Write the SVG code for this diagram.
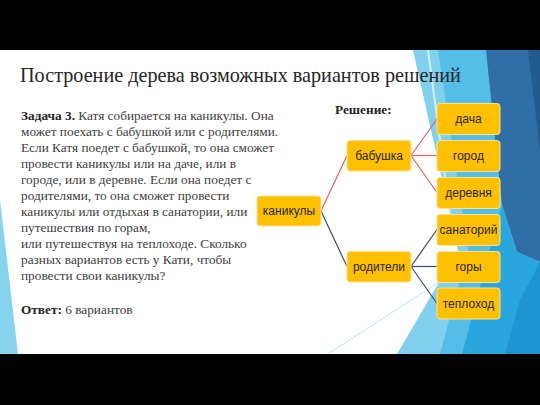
<svg xmlns="http://www.w3.org/2000/svg" width="540" height="405" viewBox="0 0 540 405">
<style>
.bar{fill:#000}
.title{font-family:"Liberation Serif","Times New Roman",serif;font-size:20.2px;fill:#262626}
.body{font-family:"Liberation Serif","Times New Roman",serif;font-size:13.3px;fill:#404040}
.b{font-weight:bold;fill:#262626}
.node rect{fill:#FFC000;stroke:#FFE38A;stroke-width:1}
.node text{font-family:"Liberation Sans",Arial,sans-serif;font-size:12px;fill:#262626;text-anchor:middle}
.red{stroke:#E0606A;stroke-width:1.2;fill:none}
.navy{stroke:#3E4A68;stroke-width:1.2;fill:none}
</style>
<rect x="0" y="0" width="540" height="405" fill="#FFFFFF"/>
<g id="background">
<polygon points="0,200 18,354 0,354" fill="#86D3EE"/>
<polygon points="413,50 540,50 540,354 397,354 458,250" fill="#80D0EE"/>
<polygon points="438,50 488,50 502,205 475,354 440,354 468,250" fill="#55BEE8"/>
<polygon points="486,50 540,50 540,262 517,252 502,205" fill="#2F6FA6"/>
<polygon points="528,50 540,50 540,150" fill="#235B8F"/>
<polygon points="502,205 517,252 540,262 540,354 462,354" fill="#2AA6DE"/>
<polygon points="520,300 540,262 540,354 505,354" fill="#1E95D0"/>
<line x1="428" y1="50" x2="452" y2="230" stroke="#D2EEF8" stroke-width="2"/>
<line x1="328" y1="354" x2="470" y2="262" stroke="#A9DDF1" stroke-width="0.8"/>
</g>
<rect class="bar" x="0" y="0" width="540" height="50"/>
<rect class="bar" x="0" y="354" width="540" height="51"/>
<text class="title" x="20" y="82">Построение дерева возможных вариантов решений</text>
<g id="problem" class="body">
<text x="21" y="120"><tspan class="b">Задача 3.</tspan> Катя собирается на каникулы. Она</text>
<text x="21" y="136">может поехать с бабушкой или с родителями.</text>
<text x="21" y="152">Если Катя поедет с бабушкой, то она сможет</text>
<text x="21" y="168">провести каникулы или на даче, или в</text>
<text x="21" y="184">городе, или в деревне. Если она поедет с</text>
<text x="21" y="200">родителями, то она сможет провести</text>
<text x="21" y="216">каникулы или отдыхая в санатории, или</text>
<text x="21" y="232">путешествия по горам,</text>
<text x="21" y="248">или путешествуя на теплоходе. Сколько</text>
<text x="21" y="264">разных вариантов есть у Кати, чтобы</text>
<text x="21" y="280">провести свои каникулы?</text>
<text x="21" y="314"><tspan class="b">Ответ:</tspan> 6 вариантов</text>
</g>
<text class="body b" x="335" y="114">Решение:</text>
<g id="connectors">
<line class="red" x1="321" y1="211" x2="347" y2="155.5"/>
<line class="navy" x1="321" y1="211" x2="347" y2="266.5"/>
<line class="red" x1="411" y1="155.5" x2="437" y2="119"/>
<line class="red" x1="411" y1="155.5" x2="437" y2="155.5"/>
<line class="red" x1="411" y1="155.5" x2="437" y2="192.5"/>
<line class="navy" x1="411" y1="266.5" x2="437" y2="229.5"/>
<line class="navy" x1="411" y1="266.5" x2="437" y2="266.5"/>
<line class="navy" x1="411" y1="266.5" x2="437" y2="303.5"/>
</g>
<g id="kanikuly" class="node"><rect x="257" y="196" width="64" height="30" rx="3"/><text x="289" y="215">каникулы</text></g>
<g id="babushka" class="node"><rect x="347" y="140.5" width="64" height="30.5" rx="3"/><text x="379" y="160">бабушка</text></g>
<g id="roditeli" class="node"><rect x="347" y="251.5" width="64" height="30.5" rx="3"/><text x="379" y="271">родители</text></g>
<g id="dacha" class="node"><rect x="437" y="103.5" width="63" height="31" rx="3"/><text x="468.5" y="123">дача</text></g>
<g id="gorod" class="node"><rect x="437" y="140.5" width="63" height="31" rx="3"/><text x="468.5" y="160">город</text></g>
<g id="derevnya" class="node"><rect x="437" y="177.5" width="63" height="31" rx="3"/><text x="468.5" y="197">деревня</text></g>
<g id="sanatoriy" class="node"><rect x="437" y="214.5" width="63" height="31" rx="3"/><text x="468.5" y="234">санаторий</text></g>
<g id="gory" class="node"><rect x="437" y="251.5" width="63" height="31" rx="3"/><text x="468.5" y="271">горы</text></g>
<g id="teplokhod" class="node"><rect x="437" y="288" width="63" height="31" rx="3"/><text x="468.5" y="308">теплоход</text></g>
</svg>
